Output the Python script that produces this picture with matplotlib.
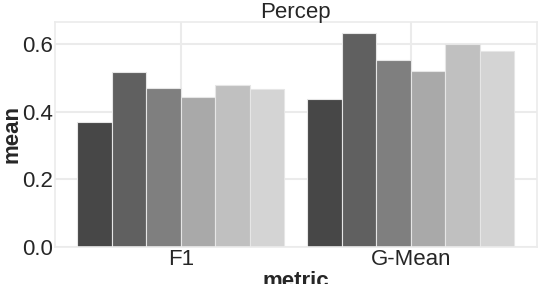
import numpy as np
import matplotlib
matplotlib.use("Agg")
import matplotlib.pyplot as plt
import seaborn as sns

metrics = ['F1', 'G-Mean']
methods = ['m1', 'm2', 'm3', 'm4', 'm5', 'm6']
f1_vals = [0.368, 0.516, 0.469, 0.442, 0.479, 0.466]
gmean_vals = [0.436, 0.631, 0.552, 0.520, 0.600, 0.579]
colors = ['#474747', '#606060', '#7f7f7f', '#a9a9a9', '#c0c0c0', '#d4d4d4']

sns.set_style("whitegrid", {'grid.color': '#ebebeb', 'axes.edgecolor': '#ebebeb'})
plt.rcParams['font.family'] = ['Liberation Sans', 'DejaVu Sans']

fig = plt.figure(figsize=(5.38, 2.84), dpi=100)
ax = fig.add_axes([0.102, 0.130, 0.896, 0.793])

vals = np.array([f1_vals, gmean_vals])
x = np.arange(len(metrics))
n = len(methods)
width = 0.9 / n
for i, m in enumerate(methods):
    ax.bar(x - 0.45 + width * (i + 0.5), vals[:, i], width, color=colors[i],
           edgecolor='#e6e6e6', linewidth=0.8, label=m)

ax.set_xticks(x)
ax.set_xticklabels(metrics)
ax.set_xlim(-0.548, 1.548)
ax.set_ylim(0, 0.665)
ax.set_yticks([0.0, 0.2, 0.4, 0.6])
ax.grid(True, color='#ebebeb', linewidth=1.5)
ax.tick_params(axis='both', labelsize=16, length=0, pad=1.5, colors='#262626')
ax.set_xlabel('metric', fontsize=16, fontweight='bold')
ax.set_ylabel('mean', fontsize=16, fontweight='bold')
ax.yaxis.set_label_coords(-0.068, 0.5)
ax.xaxis.set_label_coords(0.5, -0.108)
ax.set_title('Percep', fontsize=16, pad=3)
for s in ax.spines.values():
    s.set_color('#ebebeb')
    s.set_linewidth(1.2)

fig.savefig('out.png', dpi=100)
